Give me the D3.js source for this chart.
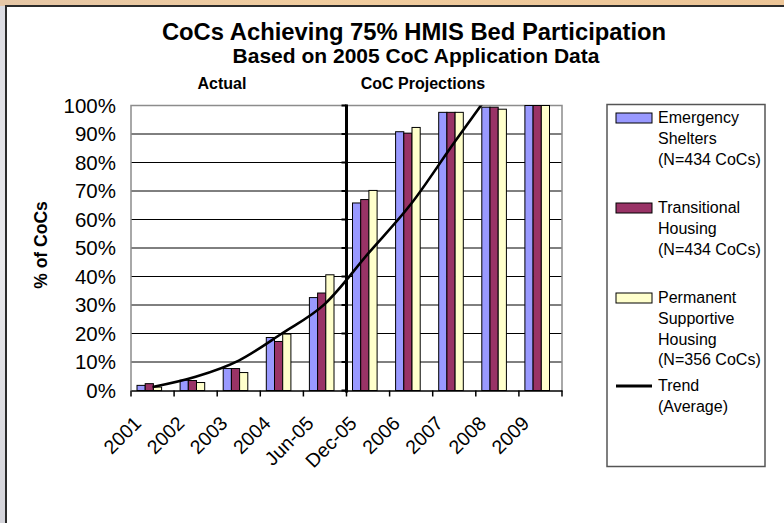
<!DOCTYPE html>
<html>
<head>
<meta charset="utf-8">
<script src="https://cdn.jsdelivr.net/npm/d3@7"></script>
<style>
  body { margin: 0; }
  text { font-family: "Liberation Sans", Arial, sans-serif; }
</style>
</head>
<body>
<div id="chart"></div>
<script>
// ---------------- data ----------------
var categories = ["2001", "2002", "2003", "2004", "Jun-05", "Dec-05", "2006", "2007", "2008", "2009"];
var emergency    = [1.8, 3.6, 7.7, 18.6, 32.6, 65.8, 90.8, 97.6, 99.4, 100];
var transitional = [2.4, 3.5, 7.7, 17.2, 34.2, 67.0, 90.3, 97.6, 99.4, 100];
var permanent    = [1.2, 2.8, 6.3, 19.8, 40.6, 70.2, 92.3, 97.6, 98.7, 100];
// trend line read at each category centre (clipped at 100%)
var trendCats   = ["2001", "2002", "2003", "2004", "Jun-05", "Dec-05", "2006", "2007", "2008"];
var trendValues = [1.2, 4.8, 10.5, 20, 30.4, 48, 65.5, 87, 108];
var yTickValues = [0, 10, 20, 30, 40, 50, 60, 70, 80, 90, 100];
var seriesColors = ["#9999FF", "#993366", "#FFFFCC"];
var legendLines = [
  ["Emergency", "Shelters", "(N=434 CoCs)"],
  ["Transitional", "Housing", "(N=434 CoCs)"],
  ["Permanent", "Supportive", "Housing", "(N=356 CoCs)"],
  ["Trend", "(Average)"]
];

// ---------------- canvas ----------------
var width = 784, height = 523;
var plot = {left: 131, right: 562, top: 105.5, bottom: 390.5};

var svg = d3.select("#chart").append("svg")
  .attr("width", width)
  .attr("height", height);

var defs = svg.append("defs");
var gLeft = defs.append("linearGradient").attr("id", "leftBg")
  .attr("x1", 0).attr("x2", 0).attr("y1", 0).attr("y2", 1);
gLeft.append("stop").attr("offset", "0%").attr("stop-color", "#dcdce2");
gLeft.append("stop").attr("offset", "50%").attr("stop-color", "#e9e9ec");
gLeft.append("stop").attr("offset", "100%").attr("stop-color", "#d4d4da");
var gTop = defs.append("linearGradient").attr("id", "topBg");
gTop.append("stop").attr("offset", "0%").attr("stop-color", "#e6c7a6");
gTop.append("stop").attr("offset", "40%").attr("stop-color", "#f1cd9f");
gTop.append("stop").attr("offset", "100%").attr("stop-color", "#ecc597");

// background frame
svg.append("rect").attr("width", width).attr("height", height).attr("fill", "url(#leftBg)");
svg.append("rect").attr("width", width).attr("height", 6).attr("fill", "url(#topBg)");
svg.append("rect")
  .attr("x", 6).attr("y", 6)
  .attr("width", width + 20).attr("height", height + 20)
  .attr("fill", "#fff")
  .attr("stroke", "#2b2b2b")
  .attr("stroke-width", 2);

// ---------------- scales ----------------
var x = d3.scaleBand().domain(categories).range([plot.left, plot.right]).padding(0);
var barW = 8.2, groupOffset = 6;
var y = d3.scaleLinear().domain([0, 100]).range([plot.bottom, plot.top]);

// ---------------- titles ----------------
svg.append("text").attr("x", 414).attr("y", 40)
  .attr("text-anchor", "middle").attr("font-size", 23.8).attr("font-weight", "bold")
  .text("CoCs Achieving 75% HMIS Bed Participation");
svg.append("text").attr("x", 416).attr("y", 62.5)
  .attr("text-anchor", "middle").attr("font-size", 21).attr("font-weight", "bold")
  .text("Based on 2005 CoC Application Data");
svg.append("text").attr("x", 222).attr("y", 89)
  .attr("text-anchor", "middle").attr("font-size", 16).attr("font-weight", "bold")
  .text("Actual");
svg.append("text").attr("x", 423).attr("y", 89)
  .attr("text-anchor", "middle").attr("font-size", 16).attr("font-weight", "bold")
  .text("CoC Projections");

// ---------------- grid + axes ----------------
svg.append("g").selectAll("line")
  .data(yTickValues.filter(function(d) { return d > 0; }))
  .enter().append("line")
  .attr("x1", plot.left).attr("x2", plot.right)
  .attr("y1", function(d) { return y(d); }).attr("y2", function(d) { return y(d); })
  .attr("stroke", "#000").attr("stroke-width", 1);

// plot area border (grey)
svg.append("path")
  .attr("d", "M" + plot.left + "," + plot.bottom + "V" + plot.top + "H" + plot.right + "V" + plot.bottom)
  .attr("fill", "none").attr("stroke", "#8c8c8c").attr("stroke-width", 1.5);

var yAxis = d3.axisLeft(y).tickValues(yTickValues).tickSize(0).tickPadding(15)
  .tickFormat(function(d) { return d + "%"; });
var yG = svg.append("g").attr("transform", "translate(" + plot.left + ",0)").call(yAxis);
yG.select(".domain").remove();
yG.selectAll("text").attr("font-size", 20.5).attr("fill", "#000");

svg.append("text")
  .attr("transform", "translate(47," + ((plot.top + plot.bottom) / 2 - 3) + ") rotate(-90)")
  .attr("text-anchor", "middle").attr("font-size", 17.5).attr("font-weight", "bold")
  .text("% of CoCs");

// ---------------- bars ----------------
var seriesData = [emergency, transitional, permanent];
seriesData.forEach(function(vals, s) {
  svg.append("g").selectAll("rect")
    .data(categories)
    .enter().append("rect")
    .attr("x", function(d) { return x(d) + groupOffset + s * barW; })
    .attr("y", function(d, i) { return y(vals[i]); })
    .attr("width", barW)
    .attr("height", function(d, i) { return plot.bottom - y(vals[i]); })
    .attr("fill", seriesColors[s])
    .attr("stroke", "#000").attr("stroke-width", 1);
});

// x axis (black with outward ticks at category borders)
var xAxis = d3.axisBottom(x).tickSize(0).tickFormat("");
var xG = svg.append("g").attr("transform", "translate(0," + plot.bottom + ")").call(xAxis);
xG.select(".domain").attr("stroke", "#000").attr("stroke-width", 1.5);
xG.selectAll(".tick").remove();
xG.selectAll("line.border").data(d3.range(categories.length + 1))
  .enter().append("line").attr("class", "border")
  .attr("x1", function(i) { return plot.left + i * x.bandwidth(); })
  .attr("x2", function(i) { return plot.left + i * x.bandwidth(); })
  .attr("y1", 0).attr("y2", 6)
  .attr("stroke", "#000").attr("stroke-width", 1.5);

svg.append("g").selectAll("text")
  .data(categories)
  .enter().append("text")
  .attr("transform", function(d) {
    return "translate(" + (x(d) + x.bandwidth() / 2 - 10) + "," + (plot.bottom + 34) + ") rotate(-45)";
  })
  .attr("text-anchor", "end")
  .attr("font-size", 19.5)
  .text(function(d) { return d; });

// actual / projection divider
var divX = x("Dec-05");
svg.append("line")
  .attr("x1", divX).attr("x2", divX)
  .attr("y1", plot.top - 1).attr("y2", plot.bottom + 2)
  .attr("stroke", "#000").attr("stroke-width", 3);
svg.append("g").selectAll("line")
  .data(yTickValues)
  .enter().append("line")
  .attr("x1", divX - 5).attr("x2", divX)
  .attr("y1", function(d) { return y(d); }).attr("y2", function(d) { return y(d); })
  .attr("stroke", "#000").attr("stroke-width", 2);

// ---------------- trend line ----------------
defs.append("clipPath").attr("id", "plotClip")
  .append("rect").attr("x", plot.left).attr("y", plot.top)
  .attr("width", plot.right - plot.left).attr("height", plot.bottom - plot.top);

var line = d3.line()
  .x(function(d, i) { return x(trendCats[i]) + x.bandwidth() / 2; })
  .y(function(d) { return y(d); })
  .curve(d3.curveMonotoneX);

svg.append("path")
  .datum(trendValues)
  .attr("clip-path", "url(#plotClip)")
  .attr("d", line)
  .attr("fill", "none")
  .attr("stroke", "#000")
  .attr("stroke-width", 2.6);

// ---------------- legend ----------------
var legend = svg.append("g");
legend.append("rect")
  .attr("x", 607).attr("y", 104.5).attr("width", 158).attr("height", 362)
  .attr("fill", "#fff").attr("stroke", "#555").attr("stroke-width", 1.5);

var entryY = [123, 213, 303, 391];
legendLines.forEach(function(lines, k) {
  var by = entryY[k];
  if (k < 3) {
    legend.append("rect")
      .attr("x", 616).attr("y", by - 10).attr("width", 36).attr("height", 10)
      .attr("fill", seriesColors[k]).attr("stroke", "#000").attr("stroke-width", 1);
  } else {
    legend.append("line")
      .attr("x1", 616).attr("x2", 652).attr("y1", by - 5).attr("y2", by - 5)
      .attr("stroke", "#000").attr("stroke-width", 3);
  }
  lines.forEach(function(t, j) {
    legend.append("text")
      .attr("x", 658).attr("y", by + j * 20.8)
      .attr("font-size", 16)
      .text(t);
  });
});
</script>
</body>
</html>
